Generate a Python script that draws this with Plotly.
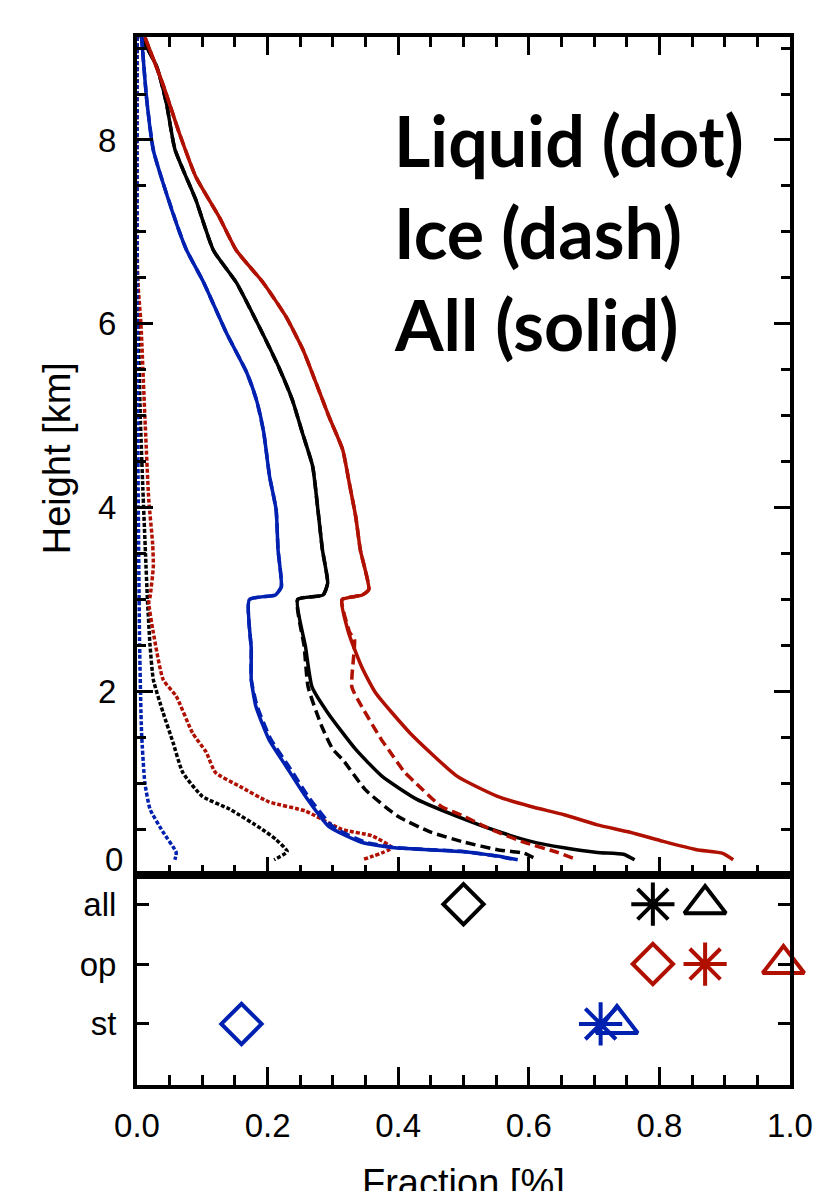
import plotly.graph_objects as go

# vertical profiles: height [km] and fraction for each cloud class
black = "#000000"
red = "#b01000"
blue = "#0020b0"

# all clouds
all_h = [9.12, 8.8, 8.4, 7.9, 7.35, 6.8, 6.45, 5.97, 5.53, 5.17, 4.82, 4.45, 3.98, 3.54, 3.18, 3.05, 3.0,
         2.49, 2.05, 1.77, 1.37, 1.08, 0.83, 0.61, 0.48, 0.37, 0.30, 0.25, 0.23, 0.17]
all_tot = [0.006, 0.03, 0.045, 0.058, 0.09, 0.117, 0.152, 0.187, 0.217, 0.238, 0.253, 0.269, 0.277, 0.284, 0.292,
           0.285, 0.246, 0.258, 0.268, 0.292, 0.335, 0.375, 0.428, 0.502, 0.552, 0.603, 0.654, 0.705, 0.745, 0.762]
all_ice_h = [9.12, 8.8, 8.4, 7.9, 7.35, 6.8, 6.45, 5.97, 5.53, 5.17, 4.82, 4.45, 3.98, 3.54, 3.18, 3.05, 3.0,
             2.49, 2.05, 1.62, 1.37, 1.26, 0.93, 0.64, 0.47, 0.36, 0.28, 0.24, 0.17]
all_ice = [0.006, 0.03, 0.045, 0.058, 0.09, 0.117, 0.152, 0.187, 0.217, 0.238, 0.253, 0.269, 0.277, 0.284, 0.292,
           0.285, 0.246, 0.256, 0.262, 0.283, 0.300, 0.315, 0.35, 0.40, 0.45, 0.502, 0.552, 0.593, 0.613]
all_liq_h = [9.12, 7.0, 6.0, 5.0, 4.2, 3.5, 3.0, 2.5, 2.13, 1.77, 1.45, 1.12, 0.86, 0.72, 0.5, 0.39, 0.26, 0.17]
all_liq = [0.0, 0.0, 0.002, 0.005, 0.009, 0.013, 0.016, 0.02, 0.025, 0.04, 0.055, 0.07, 0.10, 0.142, 0.192, 0.213,
           0.23, 0.21]

# open cells
op_h = [9.12, 8.6, 8.07, 7.6, 7.16, 6.8, 6.45, 6.08, 5.72, 5.36, 4.99, 4.63, 4.27, 3.9, 3.54, 3.11, 3.05, 3.0,
        2.64, 2.27, 1.99, 1.55, 1.08, 0.86, 0.75, 0.66, 0.55, 0.47, 0.37, 0.28, 0.24, 0.17]
op_tot = [0.012, 0.04, 0.065, 0.09, 0.126, 0.152, 0.193, 0.228, 0.254, 0.274, 0.294, 0.315, 0.325, 0.335, 0.342,
          0.355, 0.345, 0.314, 0.324, 0.344, 0.365, 0.418, 0.49, 0.552, 0.603, 0.654, 0.705, 0.755, 0.806, 0.857,
          0.897, 0.913]
op_ice_h = [9.12, 8.6, 8.07, 7.6, 7.16, 6.8, 6.45, 6.08, 5.72, 5.36, 4.99, 4.63, 4.27, 3.9, 3.54, 3.11, 3.05, 3.0,
            2.64, 2.57, 2.05, 1.84, 1.48, 1.37, 1.12, 1.01, 0.75, 0.64, 0.5, 0.36, 0.25, 0.17]
op_ice = [0.012, 0.04, 0.065, 0.09, 0.126, 0.152, 0.193, 0.228, 0.254, 0.274, 0.294, 0.315, 0.325, 0.335, 0.342,
          0.355, 0.345, 0.314, 0.326, 0.333, 0.329, 0.344, 0.374, 0.385, 0.41, 0.426, 0.466, 0.502, 0.542, 0.593,
          0.644, 0.674]
op_liq_h = [9.12, 6.6, 6.0, 5.0, 4.09, 3.6, 3.36, 3.03, 2.97, 2.64, 2.13, 1.95, 1.55, 1.34, 1.12, 0.97,
            0.8, 0.7, 0.5, 0.43, 0.3, 0.17]
op_liq = [0.0, 0.0, 0.006, 0.012, 0.018, 0.024, 0.025, 0.02, 0.018, 0.025, 0.04, 0.06, 0.085, 0.106, 0.12, 0.157,
          0.202, 0.258, 0.314, 0.36, 0.39, 0.345]

# stratiform
st_h = [9.12, 8.43, 7.89, 7.53, 7.0, 6.8, 6.45, 5.9, 5.47, 5.17, 4.82, 4.34, 3.98, 3.54, 3.14, 3.05, 3.0, 2.46,
        2.13, 1.84, 1.48, 1.19, 0.86, 0.53, 0.36, 0.3, 0.26, 0.21, 0.17]
st_tot = [0.007, 0.015, 0.025, 0.04, 0.065, 0.076, 0.102, 0.137, 0.168, 0.183, 0.194, 0.203, 0.213, 0.216, 0.221,
          0.212, 0.172, 0.175, 0.175, 0.182, 0.202, 0.228, 0.258, 0.294, 0.344, 0.395, 0.496, 0.552, 0.583]
st_ice = [0.007, 0.015, 0.025, 0.04, 0.065, 0.076, 0.102, 0.137, 0.168, 0.183, 0.194, 0.203, 0.213, 0.216, 0.221,
          0.212, 0.172, 0.175, 0.175, 0.184, 0.205, 0.232, 0.262, 0.30, 0.35, 0.40, 0.50, 0.55, 0.58]
st_liq_h = [9.12, 6.3, 4.0, 2.5, 1.55, 1.01, 0.72, 0.47, 0.25, 0.17]
st_liq = [0.0, 0.0, 0.002, 0.004, 0.007, 0.012, 0.02, 0.04, 0.06, 0.058]

# column summary (bottom panel)
cats = ["all", "op", "st"]
cat_colors = [black, red, blue]
diamond_x = [0.50, 0.79, 0.16]
asterisk_x = [0.79, 0.87, 0.71]
triangle_x = [0.87, 0.99, 0.735]

fig = go.Figure()

dash_ice = "10px,5px"
dot_liq = "4px,2px"
profiles = [
    (all_h, all_tot, black, "solid"), (all_ice_h, all_ice, black, dash_ice), (all_liq_h, all_liq, black, dot_liq),
    (op_h, op_tot, red, "solid"), (op_ice_h, op_ice, red, dash_ice), (op_liq_h, op_liq, red, dot_liq),
    (st_h, st_tot, blue, "solid"), (st_h, st_ice, blue, dash_ice), (st_liq_h, st_liq, blue, dot_liq),
]
for h, f, c, d in profiles:
    fig.add_trace(go.Scatter(x=f, y=h, mode="lines",
                             line=dict(color=c, width=3.5, dash=d, shape="spline", smoothing=0.5),
                             xaxis="x", yaxis="y", showlegend=False, hoverinfo="skip"))

for xs, sym, size in [(diamond_x, "diamond-open", 31), (asterisk_x, "asterisk-open", 36),
                      (triangle_x, "triangle-up-open", 36)]:
    fig.add_trace(go.Scatter(x=xs, y=cats, mode="markers", xaxis="x2", yaxis="y2", cliponaxis=False,
                             marker=dict(symbol=sym, size=size, color=cat_colors,
                                         line=dict(width=4, color=cat_colors)),
                             showlegend=False, hoverinfo="skip"))

tickfont = dict(family="Liberation Sans, Arial", size=33, color="black")
common = dict(showline=True, linewidth=4, linecolor="black", showgrid=False, zeroline=False,
              ticks="inside", tickwidth=3, tickcolor="black", tickfont=tickfont)

# the page body adds an 8px offset, so the figure is 8px smaller than the window
fig.update_layout(
    width=821, height=1183,
    margin=dict(l=129, r=39, t=29, b=106),
    paper_bgcolor="white", plot_bgcolor="white",
    xaxis=dict(domain=[0, 1], anchor="y", range=[0, 1], dtick=0.2, ticklen=18, showticklabels=False,
               mirror="allticks",
               minor=dict(ticks="inside", dtick=0.05, ticklen=10, tickwidth=3, tickcolor="black"), **common),
    yaxis=dict(domain=[0.2, 1], anchor="x", range=[0, 9.12], tickvals=[0, 2, 4, 6, 8],
               ticktext=["", "2", "4", "6", "8"], ticklen=16, mirror="allticks", ticklabelstandoff=10,
               minor=dict(ticks="inside", tickmode="linear", tick0=0, dtick=0.5, ticklen=9, tickwidth=3,
                          tickcolor="black"), **common),
    xaxis2=dict(domain=[0, 1], anchor="y2", range=[0, 1], dtick=0.2, tickformat=".1f", ticklen=18,
                mirror=True, ticklabelstandoff=8,
                minor=dict(ticks="inside", dtick=0.05, ticklen=10, tickwidth=3, tickcolor="black"), **common),
    yaxis2=dict(domain=[0, 0.2], anchor="x2", type="category", categoryarray=["st", "op", "all"],
                range=[-1.02, 2.48], ticklen=12, mirror="allticks", ticklabelstandoff=10, **common),
)

big = dict(family="Lato, Open Sans", size=70, color="black")
for txt, yv in [("<b>Liquid (dot)</b>", 8), ("<b>Ice (dash)</b>", 7), ("<b>All (solid)</b>", 6)]:
    fig.add_annotation(x=0.39, y=yv, xref="x", yref="y", text=txt, showarrow=False,
                       xanchor="left", yanchor="middle", font=big)

fig.add_annotation(x=0, y=0.17, xref="paper", yref="y", text="0", showarrow=False, xanchor="right",
                   xshift=-12, yanchor="middle", font=tickfont)
fig.add_annotation(x=-0.1225, y=0.598, xref="paper", yref="paper", text="Height [km]", textangle=-90,
                   xanchor="center", yanchor="middle",
                   showarrow=False, font=dict(family="Liberation Sans, Arial", size=38, color="black"))
fig.add_annotation(x=0.5, y=-0.0716, xref="paper", yref="paper", text="Fraction [%]", yanchor="top",
                   xanchor="center",
                   showarrow=False, font=dict(family="Liberation Sans, Arial", size=38, color="black"))

fig.write_html("out.html")
